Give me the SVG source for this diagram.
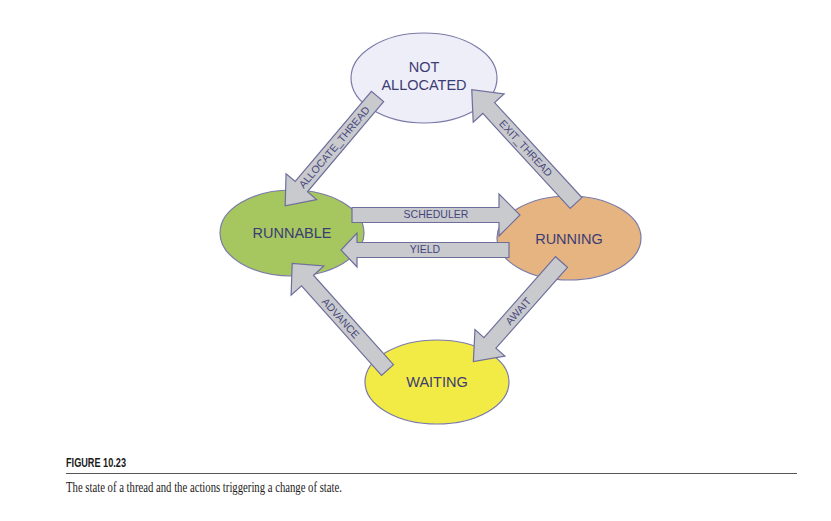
<svg xmlns="http://www.w3.org/2000/svg" width="831" height="521" viewBox="0 0 831 521">
<style>
.node{stroke:#7a7aa8;stroke-width:1.2}
.lbl{font-family:"Liberation Sans",Arial,sans-serif;font-size:14.5px;fill:#3c3c74;text-anchor:middle;dominant-baseline:central}
.arr{fill:#c9cace;stroke:#6e6e9c;stroke-width:1.2;stroke-linejoin:miter}
.al{font-family:"Liberation Sans",Arial,sans-serif;font-size:10.5px;fill:#45457c;text-anchor:middle;dominant-baseline:central}
</style>
<rect width="831" height="521" fill="#ffffff"/>
<g id="not_allocated">
<ellipse class="node" cx="424" cy="78" rx="73" ry="45" fill="#eeeef8"/>
<text class="lbl" x="424" y="67">NOT</text>
<text class="lbl" x="424" y="85">ALLOCATED</text>
</g>
<g id="runnable">
<ellipse class="node" cx="292" cy="233" rx="72" ry="43" fill="#a6c760"/>
<text class="lbl" x="292" y="233">RUNNABLE</text>
</g>
<g id="running">
<ellipse class="node" cx="569" cy="238" rx="72" ry="42" fill="#e6b481"/>
<text class="lbl" x="569" y="239">RUNNING</text>
</g>
<g id="waiting">
<ellipse class="node" cx="437" cy="382" rx="72" ry="42" fill="#f2ea45"/>
<text class="lbl" x="437" y="382">WAITING</text>
</g>
<g id="connectors">
<g id="scheduler">
<polygon class="arr" transform="translate(352,215)" points="0,-7.5 147,-7.5 147,-21 168,0 147,21 147,7.5 0,7.5"/>
<text class="al" x="436" y="214">SCHEDULER</text>
</g>
<g id="yield">
<polygon class="arr" transform="translate(509,250) rotate(180)" points="0,-7.5 152,-7.5 152,-17 168,0 152,17 152,7.5 0,7.5"/>
<text class="al" x="425" y="249">YIELD</text>
</g>
<g id="allocate_thread">
<polygon class="arr" transform="translate(377.5,96.5) rotate(130.2)" points="0,-8 118,-8 118,-20 143,0 118,20 118,8 0,8"/>
<text class="al" transform="translate(334,147) rotate(-49.8)">ALLOCATE_THREAD</text>
</g>
<g id="exit_thread">
<polygon class="arr" transform="translate(576,203) rotate(227.4)" points="0,-8 129,-8 129,-21 154,0 129,21 129,8 0,8"/>
<text class="al" transform="translate(526,148) rotate(47.4)">EXIT_THREAD</text>
</g>
<g id="await">
<polygon class="arr" transform="translate(561.5,262) rotate(131.5)" points="0,-8 108,-8 108,-20 133,0 108,20 108,8 0,8"/>
<text class="al" transform="translate(518,311) rotate(-48.5)">AWAIT</text>
</g>
<g id="advance">
<polygon class="arr" transform="translate(387.5,370) rotate(228.2)" points="0,-8 120,-8 120,-22 143,0 120,22 120,8 0,8"/>
<text class="al" transform="translate(341,318) rotate(48.2)">ADVANCE</text>
</g>
</g>
<g id="caption">
<text x="66" y="467" font-family="'Liberation Sans Narrow','Liberation Sans',Arial,sans-serif" font-weight="bold" font-size="13.5" fill="#1a1a1a" textLength="60" lengthAdjust="spacingAndGlyphs">FIGURE 10.23</text>
<line x1="66" y1="473.5" x2="797" y2="473.5" stroke="#555" stroke-width="1"/>
<text x="66" y="492" font-family="'Liberation Serif','Times New Roman',serif" font-size="14" fill="#1a1a1a" textLength="276" lengthAdjust="spacingAndGlyphs">The state of a thread and the actions triggering a change of state.</text>
</g>
</svg>
